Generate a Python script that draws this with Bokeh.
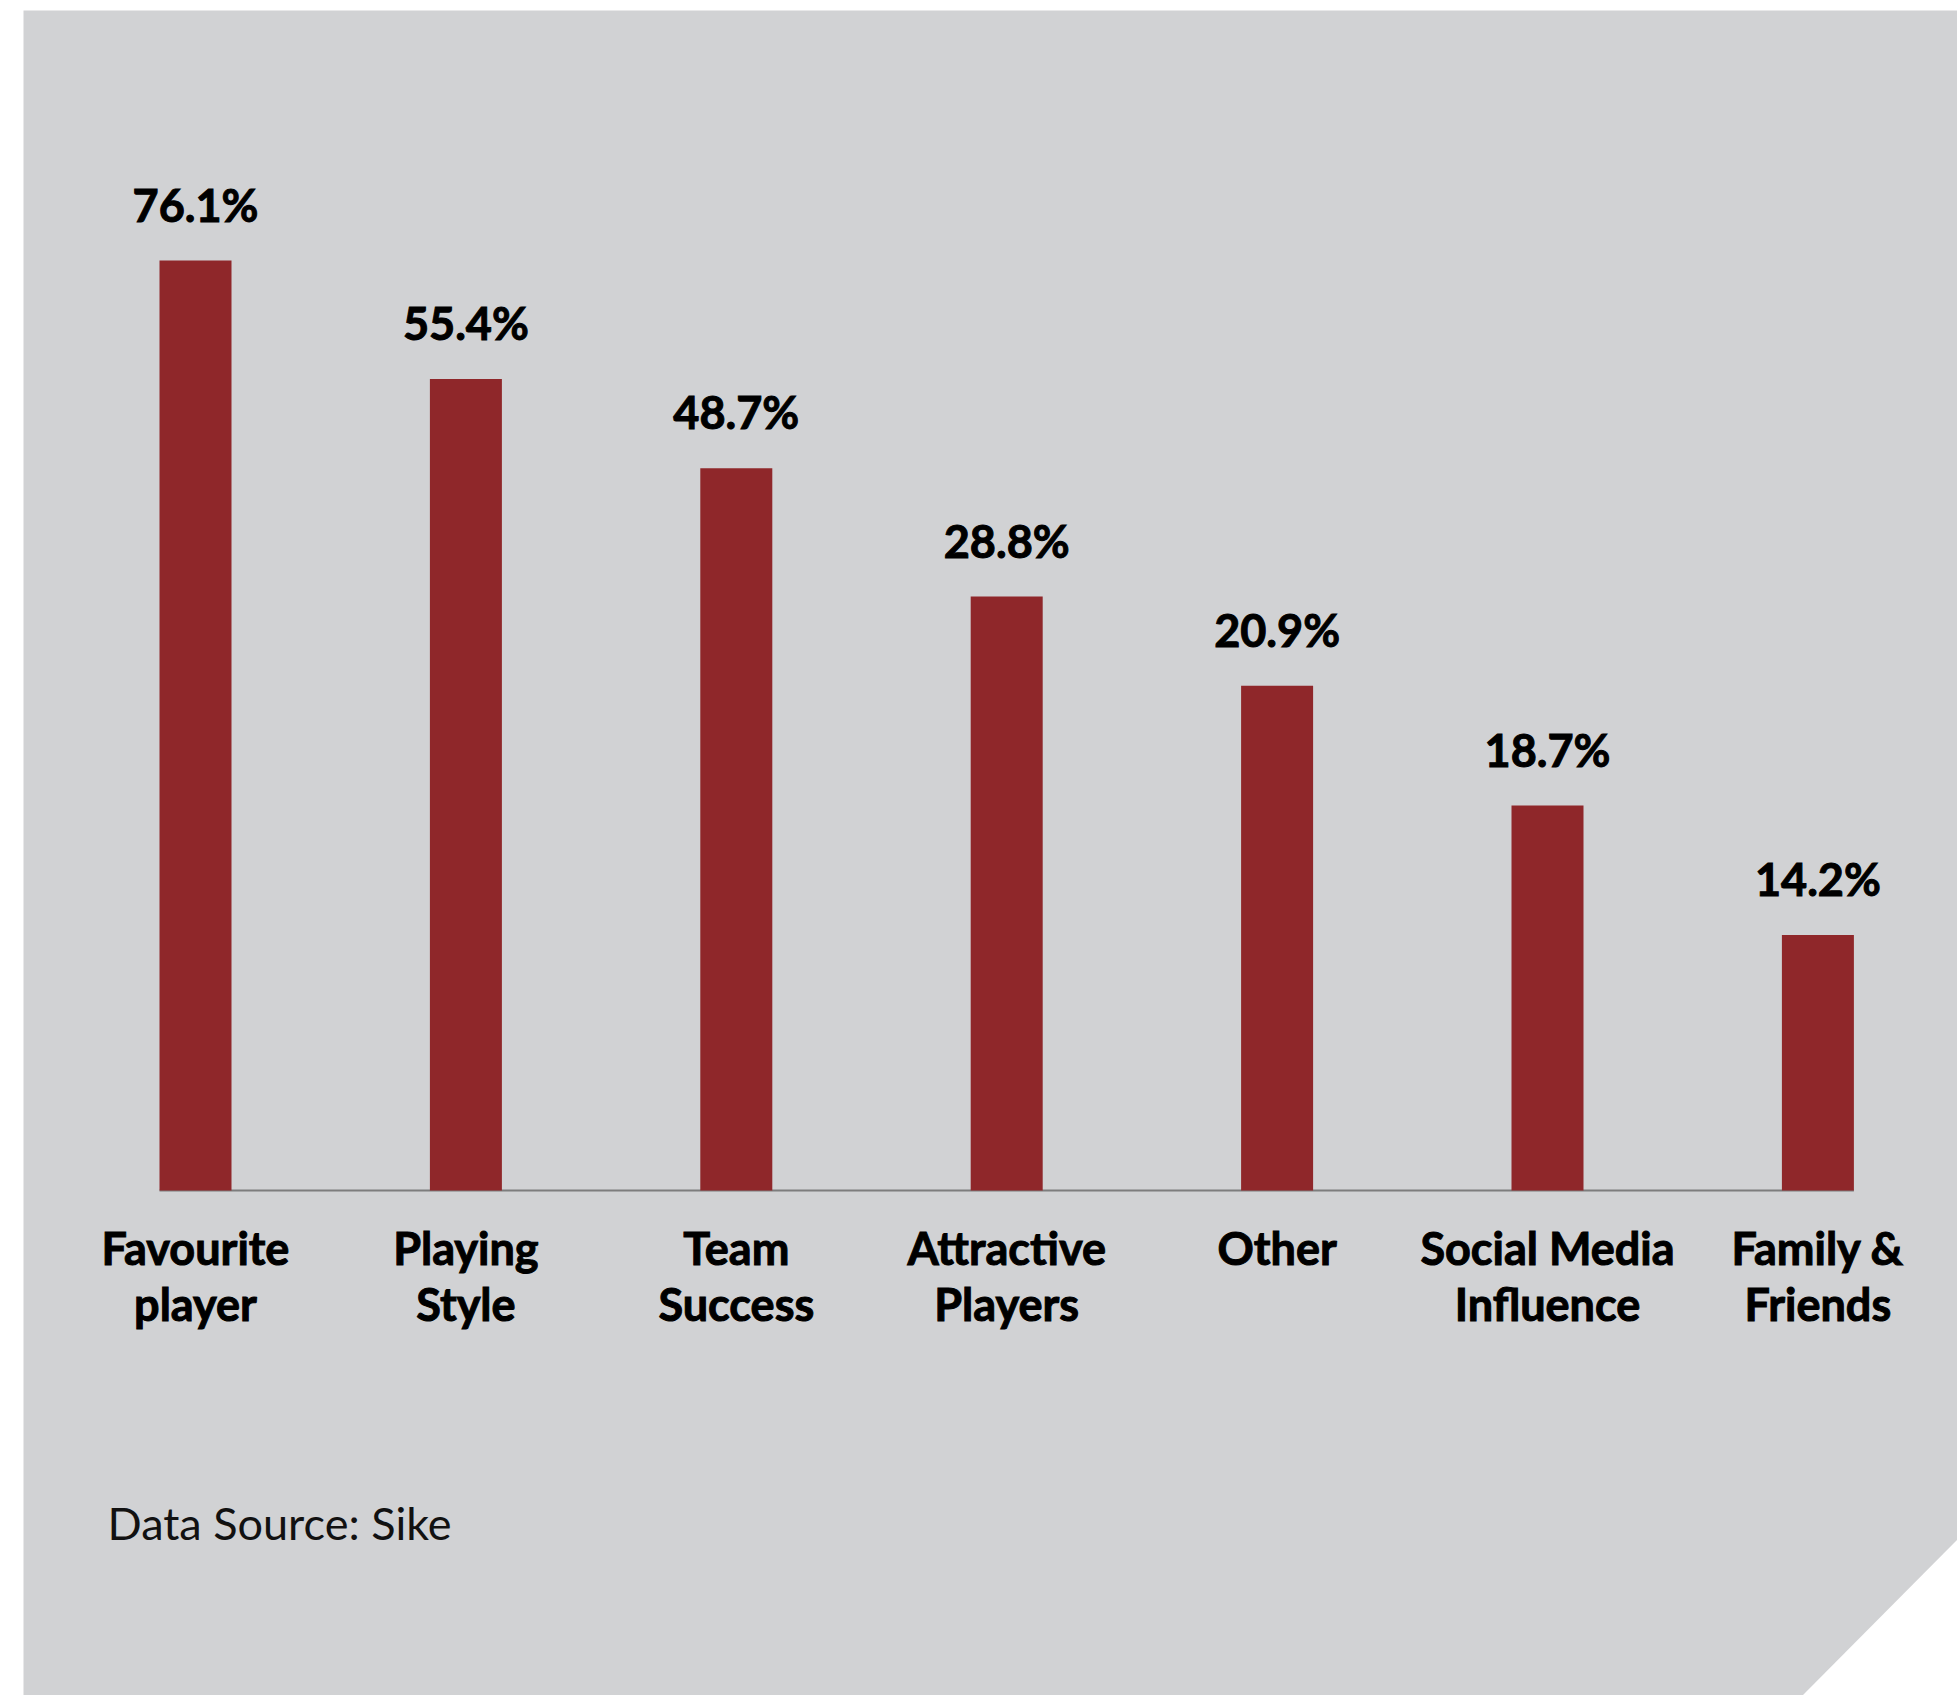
from bokeh.plotting import figure
from bokeh.models import Range1d, ColumnDataSource
from bokeh.core.properties import value
from bokeh.embed import file_html
from bokeh.resources import INLINE

# ---- data ----
categories = ["Favourite\nplayer", "Playing\nStyle", "Team\nSuccess",
              "Attractive\nPlayers", "Other", "Social Media\nInfluence",
              "Family &\nFriends"]
percent_labels = [76.1, 55.4, 48.7, 28.8, 20.9, 18.7, 14.2]
# bar lengths as drawn in the source graphic (not proportional to the labels)
bar_heights = [76.1, 66.4, 59.1, 48.6, 41.3, 31.5, 20.9]
source_note = "Data Source: Sike"

# ---- layout (pixels) ----
W, H = 1957, 1695
X0_PX = 195          # centre of first bar
STEP_PX = 270.4      # distance between bar centres
BASE_PX = 1190       # baseline
PX_PER_UNIT = 930 / 76.1
BAR_W_PX = 72
HEAVY = "Lato"


def dx(px):
    return (px - X0_PX) / STEP_PX


def dy(py):
    return (BASE_PX - py) / PX_PER_UNIT


idx = list(range(len(categories)))
src = ColumnDataSource(dict(
    x=idx,
    top=bar_heights,
    lab=[f"{v}%" for v in percent_labels],
    cat=categories,
))

p = figure(width=W, height=H, output_backend="svg", toolbar_location=None,
           x_range=Range1d(dx(0), dx(W)), y_range=Range1d(dy(H), dy(0)),
           min_border=0, min_border_left=0, min_border_right=0,
           min_border_top=0, min_border_bottom=0)
p.axis.visible = False
p.grid.visible = False
p.outline_line_color = None
p.background_fill_color = "white"
p.border_fill_color = "white"

# grey panel with clipped bottom-right corner
p.patch(x=[dx(23), dx(W), dx(W), dx(1802), dx(23)],
        y=[dy(10), dy(10), dy(1539), dy(H), dy(H)],
        fill_color="#d1d2d4", line_color=None)

# baseline (from first bar to last bar)
half = BAR_W_PX / STEP_PX / 2
p.segment(x0=idx[0] - half, y0=0, x1=idx[-1] + half, y1=0,
          line_color="#7d7d7d", line_width=2)

# bars
p.vbar(x="x", top="top", bottom=0, width=BAR_W_PX / STEP_PX, source=src,
       fill_color="#8f272a", line_color=None)

# value labels
p.text(x="x", y="top", text="lab", source=src, text_align="center",
       text_baseline="alphabetic", y_offset=-56,
       text_font=value(HEAVY), text_font_style="bold",
       text_font_size="45px", text_color="#000000",
       text_outline_color="#000000")

# category labels
p.text(x="x", y=dy(1220), text="cat", source=src, text_align="center",
       text_baseline="top", text_line_height=1.05,
       text_font=value(HEAVY), text_font_style="bold",
       text_font_size="45px", text_color="#000000",
       text_outline_color="#000000")

# source note
p.text(x=[dx(107)], y=[dy(1522)], text=[source_note], text_align="left",
       text_baseline="alphabetic", text_font=value("Lato"),
       text_font_style="normal", text_font_size="45px", text_color="#111111")

open("out.html", "w").write(file_html(p, INLINE))
